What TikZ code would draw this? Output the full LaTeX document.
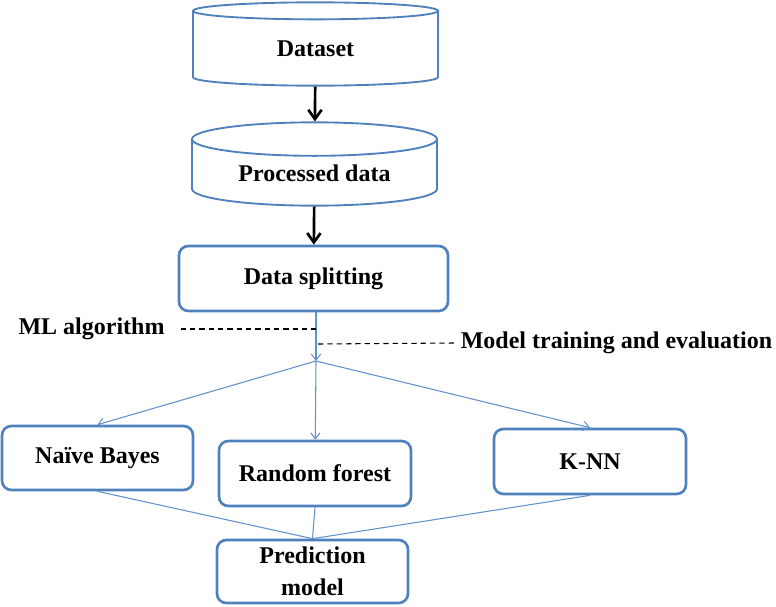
\documentclass[tikz,border=0pt]{standalone}
\usepackage{fontspec}
\setmainfont{Liberation Serif}
\usetikzlibrary{arrows.meta,positioning,shapes.geometric}
\definecolor{boxblue}{RGB}{79,129,189}
\definecolor{lineblue}{RGB}{98,145,204}
\tikzset{
  store/.style={cylinder, shape border rotate=90, aspect=0.22, anchor=shape center, draw=boxblue, line width=1.4pt, align=center, inner sep=0pt, minimum width=183.75pt, minimum height=62.5pt, font=\bfseries\fontsize{18}{22}\selectfont},
  box/.style={draw=boxblue, line width=2pt, rounded corners=7pt, align=center, inner sep=2pt, font=\bfseries\fontsize{18}{24}\selectfont},
  tag/.style={inner sep=0pt, font=\bfseries\fontsize{18}{22}\selectfont},
  arrow/.style={-{Straight Barb[length=7pt,width=10pt]}, line width=2pt},
  bluearrow/.style={-{Straight Barb[length=4.5pt,width=7pt]}, line width=0.8pt, draw=lineblue},
  link/.style={line width=0.8pt, draw=lineblue},
  guide/.style={dashed, dash pattern=on 4pt off 3pt, line width=0.8pt}
}
\begin{document}
\begin{tikzpicture}[x=0.75pt, y=-0.75pt]
\useasboundingbox (0,0) rectangle (776,607);
\node[store] (data) at (315.5,44) {Dataset};
\node[store] (proc) at (314.5,164) {Processed data};
\node[box, minimum width=201.75pt, minimum height=48.75pt] (split) at (313.5,278.5) {Data splitting};
\node[tag] (ml) at (91.5,329) {ML algorithm};
\node[tag] (train) at (616.5,343) {Model training and evaluation};
\coordinate (fork) at (316,361);
\coordinate (mlend) at (316,329);
\coordinate (trainstart) at (318,344);
\node[box, minimum width=143.25pt, minimum height=48pt] (nb) at (97.5,458) {Naïve Bayes};
\node[box, minimum width=144pt, minimum height=48.75pt] (rf) at (315,473.5) {Random forest};
\node[box, minimum width=144pt, minimum height=48.75pt] (knn) at (590,461.5) {K-NN};
\node[box, minimum width=143.25pt, minimum height=47.25pt] (pred) at (312.5,571.5) {Prediction\\model};
\draw[arrow] (data) -- (proc);
\draw[arrow] (proc) -- (split);
\draw[bluearrow] (split.south -| fork) -- (fork);
\draw[guide] ([xshift=12pt]ml.east) -- (mlend);
\draw[guide] (trainstart) -- ([xshift=-5pt]train.west);
\draw[bluearrow] (fork) -- (nb.north);
\draw[bluearrow] (fork) -- (rf);
\draw[bluearrow] (fork) -- (knn.north);
\draw[link] (nb.south) -- (pred.north);
\draw[link] (rf.south) -- (pred.north);
\draw[link] (knn.south) -- (pred.north);
\end{tikzpicture}
\end{document}
